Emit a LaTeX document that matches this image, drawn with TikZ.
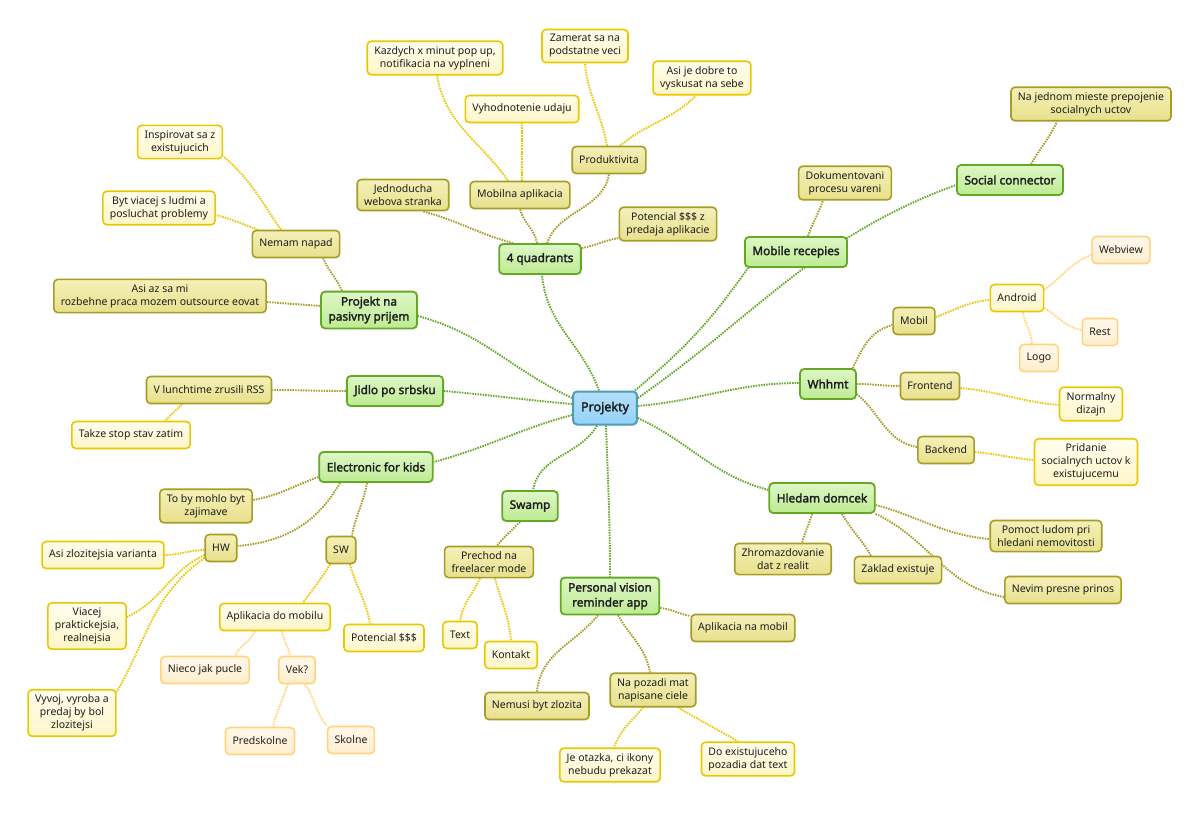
\documentclass[tikz,border=0pt]{standalone}
\usepackage{fontspec}
\setmainfont{Noto Sans}[BoldFont={Noto Sans}, BoldFeatures={FakeBold=2.2}]
\pgfdeclarelayer{bg}
\pgfsetlayers{bg,main}
\definecolor{rootD}{HTML}{4F9DB2}
\definecolor{rootT}{HTML}{B3E0FB}
\definecolor{rootB}{HTML}{94D2F6}
\definecolor{grD}{HTML}{66A826}
\definecolor{grT}{HTML}{DDF7C6}
\definecolor{grB}{HTML}{BDEB92}
\definecolor{olD}{HTML}{A59D24}
\definecolor{olT}{HTML}{F4F0B8}
\definecolor{olB}{HTML}{E8E08C}
\definecolor{yeD}{HTML}{EAC800}
\definecolor{yeT}{HTML}{FFFDEE}
\definecolor{yeB}{HTML}{FFF6C8}
\definecolor{orD}{HTML}{FFD47C}
\definecolor{orT}{HTML}{FFF8EA}
\definecolor{orB}{HTML}{FFEED0}
\definecolor{txt}{HTML}{1E1E1E}
\tikzset{
  base/.style={rounded corners=4pt, line width=1.6pt, align=center, inner xsep=7pt, inner ysep=5pt,
    text=txt, font=\fontsize{10.5}{13}\selectfont, minimum height=27pt},
  rootbox/.style={base, draw=rootD, line width=2pt, top color=rootT, bottom color=rootB, font=\bfseries\fontsize{12.5}{15}\selectfont, minimum height=33pt, inner xsep=8pt},
  lone/.style={base, draw=grD, line width=1.8pt, top color=grT, bottom color=grB, font=\bfseries\fontsize{11.8}{15}\selectfont, minimum height=30pt, inner xsep=7.5pt},
  ltwo/.style={base, draw=olD, top color=olT, bottom color=olB},
  lthree/.style={base, draw=yeD, top color=yeT, bottom color=yeB},
  lfour/.style={base, draw=orD, top color=orT, bottom color=orB},
  con/.style={line width=1.9pt, dash pattern=on 1.5pt off 1.1pt},
  eone/.style={con, draw=grD},
  etwo/.style={con, draw=olD},
  ethree/.style={con, draw=yeD},
  efour/.style={con, draw=orD},
}
\begin{document}
\begin{tikzpicture}[x=1pt,y=1pt]
\useasboundingbox (0,0) rectangle (1200,-812);

% root
\node[rootbox] (root) at (605,-408) {Projekty};

% level 1
\node[lone] (q4)  at (540,-259) {4 quadrants};
\node[lone] (pas) at (369,-310) {Projekt na\\pasivny prijem};
\node[lone] (jid) at (395,-391) {Jidlo po srbsku};
\node[lone] (elk) at (376,-467) {Electronic for kids};
\node[lone] (swa) at (530,-506) {Swamp};
\node[lone] (pvr) at (610,-596) {Personal vision\\reminder app};
\node[lone] (hle) at (822,-498) {Hledam domcek};
\node[lone] (whh) at (828,-384) {Whhmt};
\node[lone] (mre) at (796,-252) {Mobile recepies};
\node[lone] (soc) at (1010,-180) {Social connector};

% level 2
\node[ltwo] (jed) at (403,-195) {Jednoducha\\webova stranka};
\node[ltwo] (mob) at (520,-195) {Mobilna aplikacia};
\node[ltwo] (pro) at (609,-160) {Produktivita};
\node[ltwo] (pot) at (668,-224) {Potencial \$\$\$ z\\predaja aplikacie};
\node[ltwo] (nem) at (296,-244) {Nemam napad};
\node[ltwo] (asi) at (160,-296) {Asi az sa mi\\rozbehne praca mozem outsource eovat};
\node[ltwo] (vlu) at (209,-390) {V lunchtime zrusili RSS};
\node[ltwo] (tob) at (206,-506) {To by mohlo byt\\zajimave};
\node[ltwo] (hw)  at (221,-548) {HW};
\node[ltwo] (sw)  at (341,-550) {SW};
\node[ltwo] (pre) at (489,-562) {Prechod na\\freelacer mode};
\node[ltwo] (nbz) at (537,-706) {Nemusi byt zlozita};
\node[ltwo] (npz) at (653,-690) {Na pozadi mat\\napisane ciele};
\node[ltwo] (anm) at (743,-628) {Aplikacia na mobil};
\node[ltwo] (zhr) at (783,-559) {Zhromazdovanie\\dat z realit};
\node[ltwo] (zak) at (898,-570) {Zaklad existuje};
\node[ltwo] (pom) at (1046,-536) {Pomoct ludom pri\\hledani nemovitosti};
\node[ltwo] (nev) at (1063,-590) {Nevim presne prinos};
\node[ltwo] (mbl) at (914,-321) {Mobil};
\node[ltwo] (fro) at (930,-386) {Frontend};
\node[ltwo] (bac) at (946,-450) {Backend};
\node[ltwo] (dok) at (845,-183) {Dokumentovani\\procesu vareni};
\node[ltwo] (naj) at (1091,-104) {Na jednom mieste prepojenie\\socialnych uctov};

% level 3
\node[lthree] (kaz) at (435,-58) {Kazdych x minut pop up,\\notifikacia na vyplneni};
\node[lthree] (vyh) at (522,-109) {Vyhodnotenie udaju};
\node[lthree] (zam) at (585,-46) {Zamerat sa na\\podstatne veci};
\node[lthree] (asj) at (702,-78) {Asi je dobre to\\vyskusat na sebe};
\node[lthree] (ins) at (180,-142) {Inspirovat sa z\\existujucich};
\node[lthree] (byt) at (159,-208) {Byt viacej s ludmi a\\posluchat problemy};
\node[lthree] (tak) at (131,-435) {Takze stop stav zatim};
\node[lthree] (azv) at (103,-555) {Asi zlozitejsia varianta};
\node[lthree] (via) at (87,-626) {Viacej\\praktickejsia,\\realnejsia};
\node[lthree] (vyv) at (72,-713) {Vyvoj, vyroba a\\predaj by bol\\zlozitejsi};
\node[lthree] (adm) at (275,-617) {Aplikacia do mobilu};
\node[lthree] (ps)  at (384,-638) {Potencial \$\$\$};
\node[lthree] (txn) at (460,-635) {Text};
\node[lthree] (kon) at (511,-655) {Kontakt};
\node[lthree] (jeo) at (610,-765) {Je otazka, ci ikony\\nebudu prekazat};
\node[lthree] (doe) at (748,-759) {Do existujuceho\\pozadia dat text};
\node[lthree] (and) at (1017,-298) {Android};
\node[lthree] (nor) at (1091,-404) {Normalny\\dizajn};
\node[lthree] (pri) at (1086,-462) {Pridanie\\socialnych uctov k\\existujucemu};

% level 4
\node[lfour] (web)  at (1121,-250) {Webview};
\node[lfour] (rst)  at (1100,-332) {Rest};
\node[lfour] (logo) at (1039,-358) {Logo};
\node[lfour] (nie)  at (205,-670) {Nieco jak pucle};
\node[lfour] (vek)  at (297,-670) {Vek?};
\node[lfour] (pred) at (260,-741) {Predskolne};
\node[lfour] (sko)  at (351,-740) {Skolne};

\begin{pgfonlayer}{bg}
\fill[white] (0,0) rectangle (1200,-812);
% root connectors
\draw[eone] ([xshift=-6pt]root.north) to[out=110,in=-85] ([xshift=2pt]q4.south);
\draw[eone] ([yshift=10pt]root.west) to[out=155,in=-15] ([yshift=-6pt]pas.east);
\draw[eone] ([yshift=4pt]root.west) to[out=175,in=-5] (jid.east);
\draw[eone] ([yshift=-7pt]root.west) to[out=195,in=15] ([yshift=5pt]elk.east);
\draw[eone] ([xshift=-8pt]root.south) to[out=-120,in=80] ([xshift=3pt]swa.north);
\draw[eone] ([xshift=1pt]root.south) to[out=-88,in=90] (pvr.north);
\draw[eone] ([yshift=-10pt]root.east) to[out=-25,in=165] ([yshift=8pt]hle.west);
\draw[eone] ([yshift=2pt]root.east) to[out=5,in=180] ([yshift=1pt]whh.west);
\draw[eone] ([xshift=-3pt]root.north east) to[out=40,in=-125] ([xshift=4pt]mre.south west);
\draw[eone] ([yshift=10pt]root.east) to[out=35,in=200] ([yshift=-5pt]soc.west);

% level 1 -> 2
\draw[etwo] ([xshift=-27pt]q4.north) to[out=165,in=-15] ([xshift=20pt]jed.south);
\draw[etwo] ([xshift=-3pt]q4.north) to[out=100,in=-75] (mob.south);
\draw[etwo] ([xshift=7pt]q4.north) to[out=70,in=-100] (pro.south);
\draw[etwo] ([yshift=11pt]q4.east) to[out=10,in=190] ([yshift=-14pt]pot.west);
\draw[etwo] ([xshift=-27pt]pas.north) to[out=115,in=-65] ([xshift=27pt]nem.south);
\draw[etwo] ([yshift=4pt]pas.west) to[out=175,in=-5] ([yshift=-6pt]asi.east);
\draw[etwo] (jid.west) to[out=180,in=0] (vlu.east);
\draw[etwo] ([yshift=-10pt]elk.west) to[out=200,in=10] ([yshift=6pt]tob.east);
\draw[etwo] ([xshift=-36pt]elk.south) to[out=-120,in=5] ([yshift=2pt]hw.east);
\draw[etwo] ([xshift=-9pt]elk.south) to[out=-100,in=80] ([xshift=11pt]sw.north);
\draw[etwo] ([xshift=-10pt]swa.south) to[out=-135,in=50] ([xshift=8pt]pre.north);
\draw[etwo] ([xshift=-12pt]pvr.south) to[out=-130,in=85] (nbz.north);
\draw[etwo] ([xshift=8pt]pvr.south) to[out=-60,in=100] ([xshift=-3pt]npz.north);
\draw[etwo] ([yshift=-12pt]pvr.east) to[out=-5,in=170] ([yshift=12pt]anm.west);
\draw[etwo] ([xshift=-10pt]hle.south) to[out=-105,in=75] ([xshift=19pt]zhr.north);
\draw[etwo] ([xshift=20pt]hle.south) to[out=-60,in=120] ([xshift=-27pt]zak.north);
\draw[etwo] ([yshift=-7pt]hle.east) to[out=-15,in=175] ([yshift=-3pt]pom.west);
\draw[etwo] (hle.south east) to[out=-25,in=170] ([yshift=-7pt]nev.west);
\draw[etwo] ([xshift=-4pt]whh.north east) to[out=65,in=195] ([yshift=-4pt]mbl.west);
\draw[etwo] (whh.east) to[out=0,in=180] (fro.west);
\draw[etwo] ([yshift=-10pt]whh.east) to[out=-40,in=170] ([yshift=3pt]bac.west);
\draw[etwo] ([xshift=12pt]mre.north) to[out=70,in=-110] ([xshift=-22pt]dok.south);
\draw[etwo] ([xshift=21pt]soc.north) to[out=60,in=-115] ([xshift=-34pt]naj.south);

% level 2 -> 3
\draw[ethree] ([xshift=-12pt]mob.north) to[out=125,in=-80] ([xshift=2pt]kaz.south);
\draw[ethree] ([xshift=2pt]mob.north) to[out=90,in=-90] (vyh.south);
\draw[ethree] ([xshift=-2pt]pro.north) to[out=100,in=-85] (zam.south);
\draw[ethree] ([xshift=11pt]pro.north) to[out=40,in=-135] ([xshift=-6pt]asj.south);
\draw[ethree] ([xshift=-15pt]nem.north) to[out=125,in=-40] ([yshift=3pt]ins.south east);
\draw[ethree] ([xshift=-38pt]nem.north) to[out=160,in=-15] ([yshift=-7pt]byt.east);
\draw[ethree] ([xshift=-27pt]vlu.south) -- ([xshift=34pt]tak.north);
\draw[ethree] ([yshift=-2pt]hw.west) to[out=180,in=0] (azv.east);
\draw[ethree] ([yshift=-7pt]hw.west) to[out=205,in=25] ([yshift=9pt]via.east);
\draw[ethree] ([yshift=-10pt]hw.west) to[out=215,in=60] ([yshift=-3pt]vyv.north east);
\draw[ethree] ([xshift=-11pt]sw.south) to[out=-120,in=55] ([xshift=28pt]adm.north);
\draw[ethree] ([xshift=9pt]sw.south) to[out=-75,in=100] ([xshift=-14pt]ps.north);
\draw[ethree] ([xshift=-9pt]pre.south) to[out=-115,in=80] (txn.north);
\draw[ethree] ([xshift=6pt]pre.south) to[out=-75,in=95] (kon.north);
\draw[ethree] ([xshift=-10pt]npz.south) to[out=-130,in=70] ([xshift=4pt]jeo.north);
\draw[ethree] ([xshift=25pt]npz.south) to[out=-30,in=150] ([xshift=-10pt]doe.north);
\draw[ethree] ([yshift=-2pt]fro.east) to[out=-5,in=175] ([yshift=-1pt]nor.west);
\draw[ethree] ([yshift=-2pt]bac.east) to[out=-5,in=175] ([yshift=2pt]pri.west);
\draw[ethree] ([yshift=4pt]mbl.east) to[out=20,in=185] ([yshift=-2pt]and.west);

% level 3 -> 4
\draw[efour] ([yshift=-6pt]and.north east) to[out=35,in=200] ([yshift=-5pt]web.west);
\draw[efour] ([yshift=4pt]and.south east) to[out=-30,in=170] ([yshift=2pt]rst.west);
\draw[efour] ([xshift=6pt]and.south) to[out=-80,in=95] ([xshift=-7pt]logo.north);
\draw[efour] ([xshift=-20pt]adm.south) to[out=-120,in=60] ([xshift=30pt]nie.north);
\draw[efour] ([xshift=7pt]adm.south) to[out=-80,in=100] ([xshift=-7pt]vek.north);
\draw[efour] ([xshift=-9pt]vek.south) to[out=-110,in=75] ([xshift=13pt]pred.north);
\draw[efour] ([xshift=8pt]vek.south) to[out=-55,in=130] (sko.north west);
\end{pgfonlayer}
\end{tikzpicture}
\end{document}
